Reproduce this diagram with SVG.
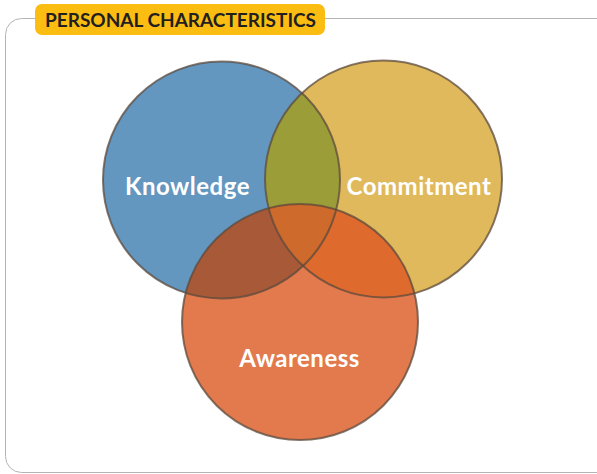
<svg xmlns="http://www.w3.org/2000/svg" width="597" height="474" viewBox="0 0 597 474">
  <style>
    .frame { fill: #ffffff; stroke: #b4b4b4; stroke-width: 1; }
    .tag { fill: #fbbd12; }
    .tag-text { font-family: Lato, "Open Sans", sans-serif; font-weight: 700; font-size: 19px; fill: #231f20; }
    .label { font-family: Lato, "Open Sans", sans-serif; font-weight: 700; font-size: 24px; letter-spacing: 0.5px; fill: #ffffff; text-anchor: middle; }
    .ring { fill: none; stroke: #5b4a3c; stroke-opacity: 0.75; stroke-width: 2; }
  </style>
  <defs>
    <circle id="cK" cx="221.5" cy="180" r="118.5"/>
    <circle id="cC" cx="383.5" cy="179" r="118.5"/>
    <circle id="cA" cx="300" cy="322" r="118"/>
    <clipPath id="clipK"><use href="#cK"/></clipPath>
    <clipPath id="clipC"><use href="#cC"/></clipPath>
    <clipPath id="clipA"><use href="#cA"/></clipPath>
  </defs>

  <!-- outer panel -->
  <rect class="frame" x="5.5" y="18.5" width="610" height="454" rx="16"/>

  <!-- heading tag -->
  <g id="heading">
    <rect class="tag" x="35" y="4" width="290" height="31" rx="7"/>
    <text class="tag-text" x="45" y="27">PERSONAL CHARACTERISTICS</text>
  </g>

  <!-- base circle fills -->
  <g id="knowledge">
    <use href="#cK" fill="#6497c0"/>
  </g>
  <g id="commitment">
    <use href="#cC" fill="#e0b95c"/>
  </g>
  <g id="awareness">
    <use href="#cA" fill="#e27a4e"/>
  </g>

  <!-- overlap regions -->
  <g id="overlaps">
    <g clip-path="url(#clipK)"><use href="#cC" fill="#9b9e38"/></g>
    <g clip-path="url(#clipK)"><use href="#cA" fill="#a85a38"/></g>
    <g clip-path="url(#clipC)"><use href="#cA" fill="#df6a2e"/></g>
    <g clip-path="url(#clipK)"><g clip-path="url(#clipC)"><use href="#cA" fill="#cd6a2c"/></g></g>
  </g>

  <!-- outlines -->
  <g id="outlines">
    <use href="#cK" class="ring"/>
    <use href="#cC" class="ring"/>
    <use href="#cA" class="ring"/>
  </g>

  <!-- labels -->
  <g id="labels">
    <text class="label" x="187.5" y="195">Knowledge</text>
    <text class="label" x="419" y="195">Commitment</text>
    <text class="label" x="299.5" y="367">Awareness</text>
  </g>
</svg>
